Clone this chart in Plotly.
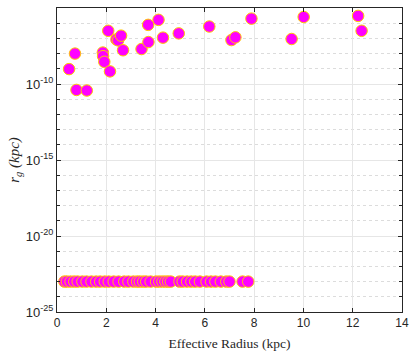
import plotly.graph_objects as go

# upper cluster: effective radius (kpc) and log10 r_g
upper_x = [0.49, 0.73, 0.79, 1.21, 1.86, 1.87, 1.92, 2.08, 2.15, 2.41, 2.48, 2.60, 2.68,
           3.43, 3.70, 3.71, 4.12, 4.30, 4.94, 6.18, 7.08, 7.24, 7.89, 9.52, 10.01, 12.22, 12.36]
upper_log = [-9.02, -8.0, -10.39, -10.43, -7.93, -8.17, -8.54, -6.5, -9.17, -7.07, -7.13, -6.82, -7.78,
             -7.70, -6.11, -7.24, -5.78, -6.95, -6.67, -6.22, -7.11, -6.93, -5.70, -7.04, -5.59, -5.52, -6.5]

# lower row at r_g ~ 1e-23
lower_x = [0.30, 0.40, 0.55, 0.70, 0.84, 1.03, 1.20, 1.40, 1.59, 1.75, 1.94, 2.10, 2.30, 2.50,
           2.73, 2.90, 3.10, 3.25, 3.36, 3.50, 3.62, 3.80, 4.02, 4.15, 4.28, 4.40, 4.51, 4.62,
           4.97, 5.10, 5.28, 5.45, 5.61, 5.80, 6.07, 6.25, 6.43, 6.65, 6.87, 7.00, 7.53, 7.76]
lower_log = [-23.0] * len(lower_x)

ytick_exp = [-25, -20, -15, -10, -5]
xtick_vals = [0, 2, 4, 6, 8, 10, 12, 14]

all_x = upper_x + lower_x
all_y = [10 ** v for v in upper_log + lower_log]

fig = go.Figure()
fig.add_trace(go.Scatter(
    x=all_x, y=all_y, mode="markers",
    marker=dict(size=11.5, color="#FF00FF", line=dict(color="#FFC800", width=1)),
    showlegend=False, cliponaxis=False, hoverinfo="skip",
))

axis_common = dict(
    showline=True, linecolor="#262626", linewidth=1, mirror="ticks",
    ticks="inside", ticklen=4, tickcolor="#262626",
    showgrid=True, gridcolor="#E6E6E6", gridwidth=1, zeroline=False,
)

fig.update_xaxes(
    range=[0, 14], tickvals=xtick_vals,
    tickfont=dict(family="Liberation Sans, Arial", size=12, color="#262626"),
    title=dict(text="Effective Radius (kpc)", font=dict(family="Liberation Serif, serif", size=13.5, color="#262626"), standoff=9),
    **axis_common,
)
fig.update_yaxes(
    type="log", range=[-25, -5],
    tickvals=[10 ** e for e in ytick_exp],
    ticktext=[f"10<sup>{e}</sup>" for e in ytick_exp],
    tickfont=dict(family="Liberation Sans, Arial", size=13, color="#262626"),
    minor=dict(tickvals=[10 ** e for e in range(-25, -4) if e % 5 != 0],
               ticks="inside", ticklen=3, tickcolor="#262626",
               showgrid=True, gridcolor="#DCDCDC", griddash="dot"),
    title=dict(text="<i>r<sub>g</sub></i> <i>(kpc)</i>", font=dict(family="Liberation Serif, serif", size=15, color="#262626"), standoff=2),
    **axis_common,
)

fig.update_layout(
    width=416, height=356,
    margin=dict(l=57, r=7, t=7, b=42),
    plot_bgcolor="white", paper_bgcolor="white",
)

fig.write_html("out.html", config={"displayModeBar": False},
               post_script="document.body.style.margin='0';document.body.style.overflow='hidden';")
